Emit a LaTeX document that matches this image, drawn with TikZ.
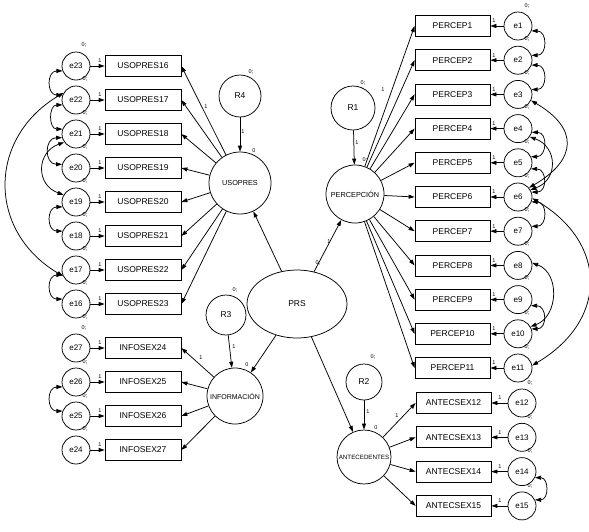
\documentclass[tikz,border=0pt]{standalone}
\usepackage{fontspec}
\setmainfont{Liberation Sans}
\usetikzlibrary{arrows.meta,shapes.geometric}
\begin{document}
\begin{tikzpicture}[x=1pt,y=-1pt, line width=0.75pt,
  obs/.style={draw, rectangle, minimum width=76pt, minimum height=21pt, inner sep=0pt, font=\fontsize{8.5}{10}\selectfont},
  err/.style={draw, circle, minimum size=28pt, inner sep=0pt, font=\fontsize{8}{9}\selectfont},
  res/.style={draw, circle, inner sep=0pt, font=\fontsize{8.5}{10}\selectfont},
  lat/.style={draw, circle, inner sep=0pt, font=\fontsize{7.3}{8}\selectfont},
  sl/.style={font=\fontsize{5.5}{6}\selectfont, inner sep=0pt},
  pth/.style={-{Triangle[length=6pt,width=4pt]}},
  cov/.style={{Triangle[length=6pt,width=4pt]}-{Triangle[length=6pt,width=4pt]}},
]
\useasboundingbox (0,0) rectangle (589,531);

% ---------- left column: USOPRES indicators
\foreach \k in {0,...,7}{
  \pgfmathtruncatemacro\en{23-\k}
  \pgfmathtruncatemacro\un{16+\k}
  \pgfmathsetmacro\yy{66+34*\k}
  \node[err] (e\en) at (76,\yy) {e\en};
  \node[obs] (u\un) at (143,\yy) {USOPRES\un};
  \draw[pth] (e\en) -- (u\un);
  \node[sl] (one\en) at (100,\yy-5) {1};
  \node[sl] (var\en) at (85,\yy+13) {0;};
}
\node[sl] (vartop23) at (84,45) {0;};

% ---------- left column: INFOSEX indicators
\foreach \k in {0,...,3}{
  \pgfmathtruncatemacro\en{27-\k}
  \pgfmathtruncatemacro\un{24+\k}
  \pgfmathsetmacro\yy{348+34*\k}
  \node[err] (e\en) at (76,\yy) {e\en};
  \node[obs] (i\un) at (143,\yy) {INFOSEX\un};
  \draw[pth] (e\en) -- (i\un);
  \node[sl] (one\en) at (100,\yy-5) {1};
}
\node[sl] (vartop27) at (84,328) {0;};
\node[sl] (var27) at (85,362) {0;};
\node[sl] (var26) at (85,396) {0;};
\node[sl] (var25) at (85,429) {0;};

% ---------- right column: PERCEP indicators
\foreach \k in {1,...,11}{
  \pgfmathsetmacro\yy{26+34.2*(\k-1)}
  \node[err] (e\k) at (518,\yy) {e\k};
  \node[obs, minimum width=75pt] (p\k) at (452.5,\yy) {PERCEP\k};
  \draw[pth] (e\k) -- (p\k);
  \node[sl] (onep\k) at (494,\yy-5) {1};
}
\foreach \k in {1,...,10}{
  \pgfmathsetmacro\yy{26+34.2*(\k-1)+13}
  \node[sl] (varp\k) at (527,\yy) {0;};
}
\node[sl] (vartop1) at (527,6) {0;};

% ---------- right column: ANTECSEX indicators
\foreach \k in {12,...,15}{
  \pgfmathsetmacro\yy{403+34.3*(\k-12)}
  \node[err] (e\k) at (522,\yy) {e\k};
  \node[obs, minimum width=75pt] (a\k) at (453.5,\yy) {ANTECSEX\k};
  \draw[pth] (e\k) -- (a\k);
  \node[sl] (onea\k) at (500,\yy-5) {1};
}
\foreach \k in {12,...,14}{
  \pgfmathsetmacro\yy{403+34.3*(\k-12)+14}
  \node[sl] (vara\k) at (530,\yy) {0;};
}
\node[sl] (vartop12) at (530,383) {0;};

% ---------- latent variables
\node[res, minimum size=42pt] (r4) at (240,96) {R4};
\node[lat, minimum size=62pt] (uso) at (240,183) {USOPRES};
\node[res, minimum size=44pt] (r1) at (353,108) {R1};
\node[lat, minimum size=58pt] (per) at (355,194) {PERCEPCIÓN};
\node[draw, ellipse, minimum width=100pt, minimum height=68pt, inner sep=0pt, font=\fontsize{8.5}{10}\selectfont] (prs) at (297,304) {PRS};
\node[res, minimum size=40pt] (r3) at (226,315) {R3};
\node[lat, minimum size=56pt, font=\fontsize{7}{8}\selectfont] (inf) at (235,396) {INFORMACIÓN};
\node[res, minimum size=36pt] (r2) at (364,382) {R2};
\node[lat, minimum size=54pt, font=\fontsize{6.2}{7}\selectfont] (ant) at (364,457) {ANTECEDENTES};

% latent labels
\node[sl] (lr4) at (251,72) {0;};
\node[sl] (luso) at (254,151) {0};
\node[sl] (lr1) at (363,83) {0;};
\node[sl] (lper) at (365,160) {0;};
\node[sl] (lr3) at (235,290) {0;};
\node[sl] (linf) at (247,365) {0};
\node[sl] (lprs) at (318,263) {0;};
\node[sl] (lr2) at (373,357) {0;};
\node[sl] (lant) at (376,428) {0};

% regression weights fixed to 1
\node[sl] (w1) at (243,132) {1};
\node[sl] (w2) at (206,107) {1};
\node[sl] (w3) at (357,143) {1};
\node[sl] (w4) at (329,242) {1};
\node[sl] (w5) at (234,347) {1};
\node[sl] (w6) at (201,358) {1};
\node[sl] (w7) at (383,90) {1};
\node[sl] (w8) at (368,412) {1};
\node[sl] (w9) at (397,416) {1};

% ---------- structural paths
\draw[pth] (r4) -- (uso);
\draw[pth] (r1) -- (per);
\draw[pth] (r3) -- (inf);
\draw[pth] (r2) -- (ant);
\draw[pth] (prs) -- (uso);
\draw[pth] (prs) -- (per);
\draw[pth] (prs) -- (inf);
\draw[pth] (prs) -- (ant);

% ---------- measurement paths
\foreach \k in {16,...,23} \draw[pth] (uso) -- (u\k.east);
\foreach \k in {1,...,11} \draw[pth] (per) -- (p\k.west);
\foreach \k in {12,...,15} \draw[pth] (ant) -- (a\k.west);
\foreach \k in {24,...,27} \draw[pth] (inf) -- (i\k.east);

% ---------- covariances, left
\draw[cov] (e23.200) .. controls +(-16,0) and +(-16,0) .. (e22.160);
\draw[cov] (e22.200) .. controls +(-14,0) and +(-14,0) .. (e21.160);
\draw[cov] (e21.195) .. controls +(-18,0) and +(-18,0) .. (e20.165);
\draw[cov] (e21.215) .. controls +(-28,10) and +(-28,-10) .. (e19.150);
\draw[cov] (e19.200) .. controls +(-16,0) and +(-16,0) .. (e18.160);
\draw[cov] (e22.150) .. controls +(-76,45) and +(-76,-45) .. (e17.205);
\draw[cov] (e17.200) .. controls +(-16,0) and +(-16,0) .. (e16.160);
\draw[cov] (e26.200) .. controls +(-16,0) and +(-16,0) .. (e25.160);

% ---------- covariances, right
\draw[cov] (e1.-20) .. controls +(16,0) and +(16,0) .. (e2.20);
\draw[cov] (e2.-20) .. controls +(16,0) and +(16,0) .. (e3.20);
\draw[cov] (e3.-25) .. controls +(48,28) and +(48,-28) .. (e6.40);
\draw[cov] (e4.-15) .. controls +(16,0) and +(16,0) .. (e5.25);
\draw[cov] (e4.-35) .. controls +(28,10) and +(28,-10) .. (e6.30);
\draw[cov] (e5.-25) .. controls +(16,0) and +(16,0) .. (e6.20);
\draw[cov] (e6.-20) .. controls +(16,0) and +(16,0) .. (e7.20);
\draw[cov] (e6.-5) .. controls +(76,45) and +(76,-45) .. (e11.10);
\draw[cov] (e8.10) .. controls +(28,10) and +(28,-10) .. (e10.30);
\draw[cov] (e9.-25) .. controls +(16,0) and +(16,0) .. (e10.20);
\draw[cov] (e14.-25) .. controls +(14,0) and +(14,0) .. (e15.25);
\end{tikzpicture}
\end{document}
